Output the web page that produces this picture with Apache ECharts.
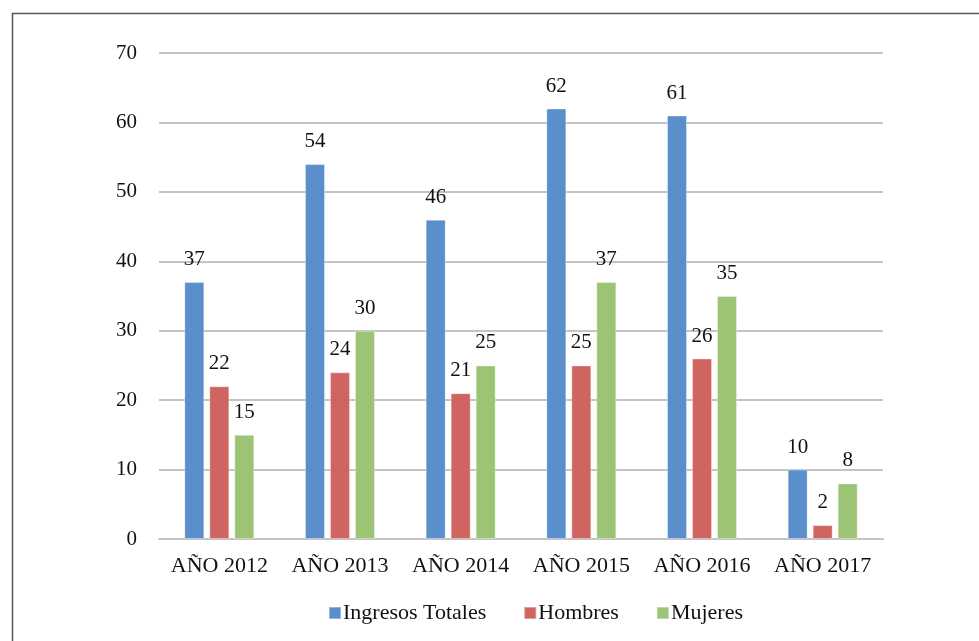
<!DOCTYPE html>
<html>
<head>
<meta charset="utf-8">
<script src="https://cdn.jsdelivr.net/npm/echarts@6/dist/echarts.min.js"></script>
<style>
  html, body { margin: 0; padding: 0; background: #fff; }
  #chart { width: 979px; height: 641px; }
</style>
</head>
<body>
<div id="chart"></div>
<script>
const years = ['AÑO 2012', 'AÑO 2013', 'AÑO 2014', 'AÑO 2015', 'AÑO 2016', 'AÑO 2017'];
const ingresosTotales = [37, 54, 46, 62, 61, 10];
const hombres = [22, 24, 21, 25, 26, 2];
const mujeres = [15, 30, 25, 37, 35, 8];
const seriesNames = ['Ingresos Totales', 'Hombres', 'Mujeres'];
const COLORS = ['#5B8FCB', '#CF6460', '#9DC474'];

const SERIF = '"Liberation Serif", "DejaVu Serif", serif';

const chart = echarts.init(document.getElementById('chart'), null, { renderer: 'canvas' });

const bar = (name, data, color) => ({
  name, type: 'bar', data,
  barWidth: 20,
  barGap: '25%',
  itemStyle: { color, borderColor: 'rgba(255,255,255,0.35)', borderWidth: 1 },
  label: {
    show: true, position: 'top', distance: 12,
    color: '#111', fontFamily: SERIF, fontSize: 21
  }
});

chart.setOption({
  animation: false,
  backgroundColor: '#fff',
  color: COLORS,
  graphic: [{
    type: 'rect', left: 10, top: 11,
    shape: { width: 1000, height: 700 },
    style: { fill: 'none', stroke: '#555', lineWidth: 1.5 },
    silent: true, z: -1
  }],
  grid: { left: 159, right: 96, top: 53, bottom: 102, containLabel: false },
  legend: {
    bottom: 12, left: 323,
    itemWidth: 12, itemHeight: 12, itemGap: 37,
    icon: 'rect',
    textStyle: { fontFamily: SERIF, fontSize: 22, color: '#111', padding: [0, 0, 0, -3] },
    data: seriesNames
  },
  xAxis: {
    type: 'category', data: years,
    axisLine: { show: true, lineStyle: { color: '#C4C4C4', width: 2 } },
    axisTick: { show: false },
    axisLabel: { color: '#111', fontFamily: SERIF, fontSize: 22, margin: 16, interval: 0 }
  },
  yAxis: {
    type: 'value', min: 0, max: 70, interval: 10,
    axisLine: { show: false },
    axisTick: { show: false },
    axisLabel: { color: '#111', fontFamily: SERIF, fontSize: 21, margin: 22 },
    splitLine: { lineStyle: { color: '#C4C4C4', width: 2 } }
  },
  series: [
    bar(seriesNames[0], ingresosTotales, COLORS[0]),
    bar(seriesNames[1], hombres, COLORS[1]),
    bar(seriesNames[2], mujeres, COLORS[2])
  ]
});
</script>
</body>
</html>
